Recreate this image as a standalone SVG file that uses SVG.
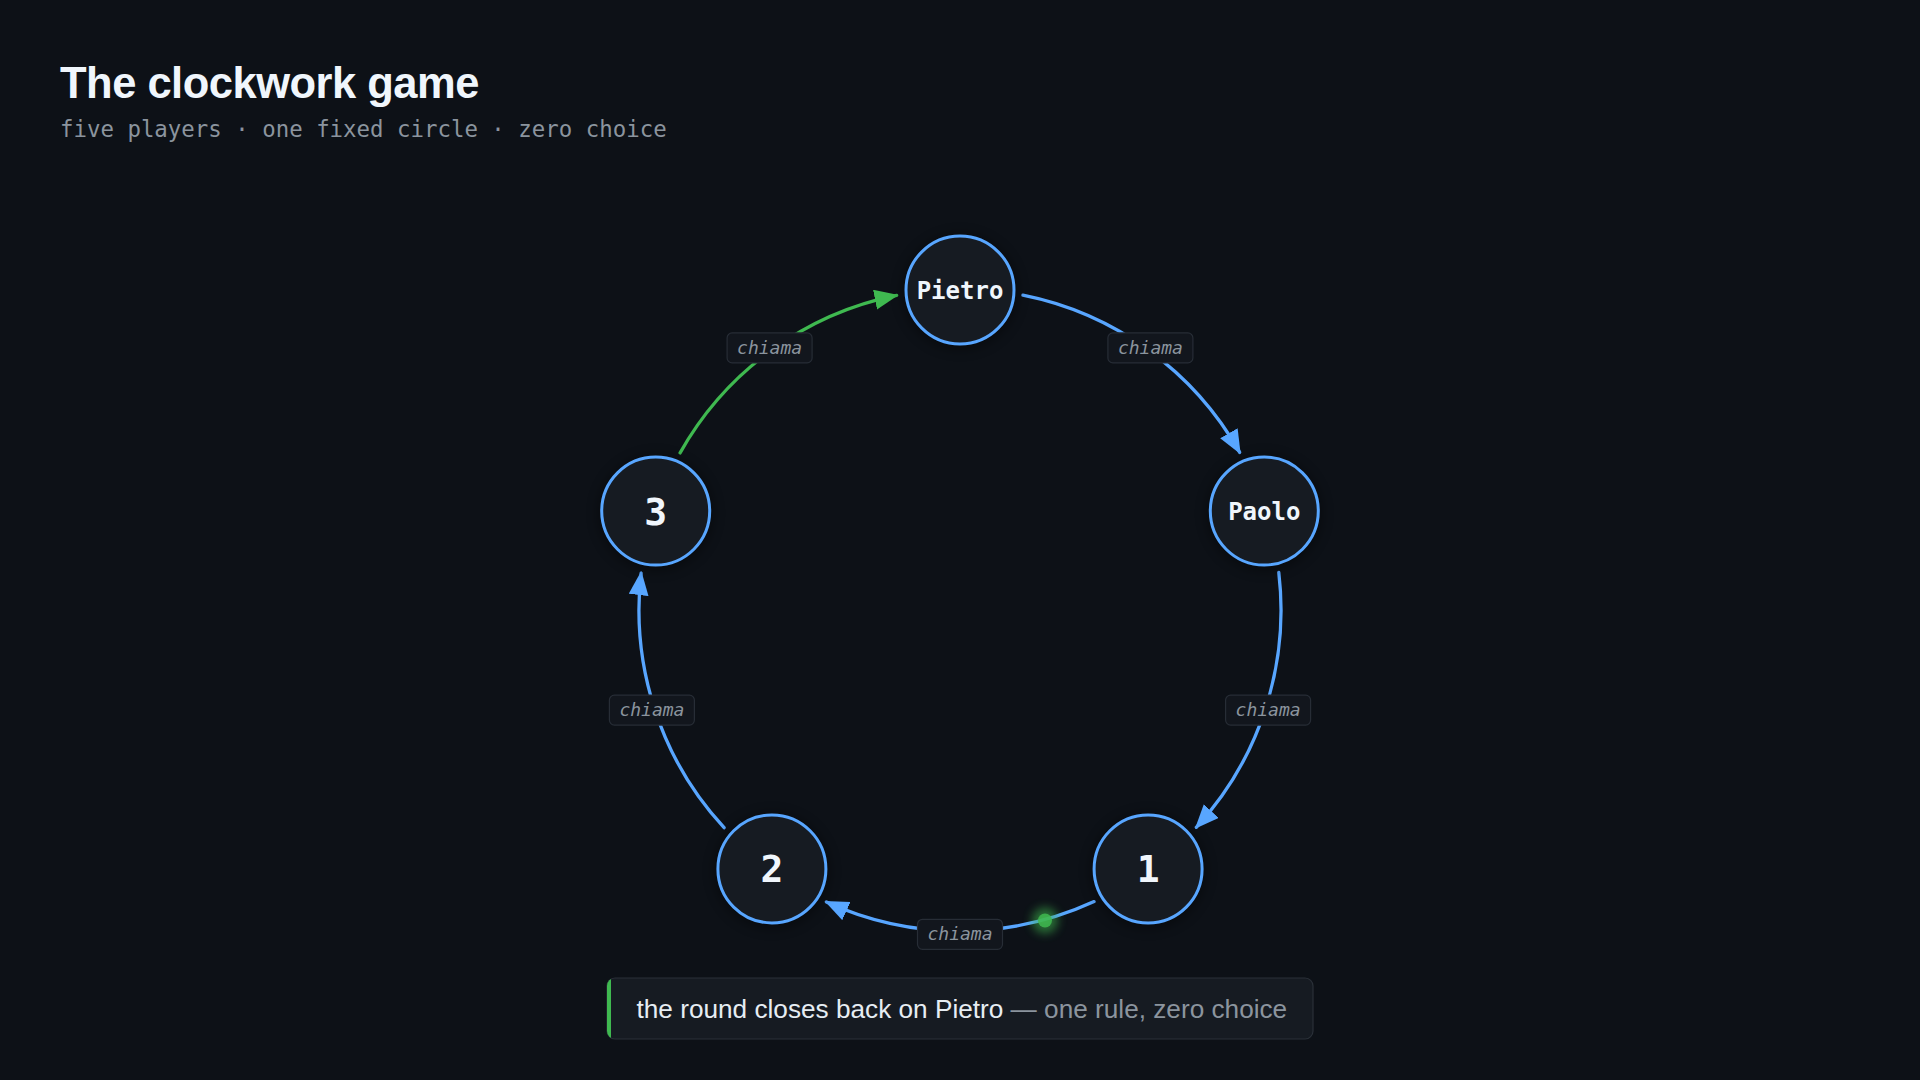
<svg xmlns="http://www.w3.org/2000/svg" width="1920" height="1080" viewBox="0 0 1920 1080">
  <defs>
    <style>
      .title { font-family: "Liberation Sans", Arial, sans-serif; font-weight: 700; font-size: 43.5px; fill: #f0f6fc; letter-spacing: -0.5px; }
      .subtitle { font-family: "DejaVu Sans Mono", "Liberation Mono", monospace; font-size: 22.4px; fill: #8b949e; }
      .node-circle { fill: #161b22; stroke: #58a6ff; stroke-width: 3; }
      .node-halo { fill: #000000; opacity: 0.35; }
      .node-name { font-family: "DejaVu Sans Mono", "Liberation Mono", monospace; font-weight: 700; font-size: 24px; fill: #f0f6fc; text-anchor: middle; }
      .node-num { font-family: "DejaVu Sans Mono", "Liberation Mono", monospace; font-weight: 700; font-size: 38px; fill: #f0f6fc; text-anchor: middle; }
      .edge { fill: none; stroke-width: 3.3; stroke-linecap: round; }
      .edge-blue { stroke: #58a6ff; marker-end: url(#arrow-blue); }
      .edge-green { stroke: #3fb950; marker-end: url(#arrow-green); }
      .label-box { fill: #12161d; stroke: #272d36; stroke-width: 1.2; }
      .label-text { font-family: "DejaVu Sans Mono", "Liberation Mono", monospace; font-style: italic; font-size: 18px; fill: #8b949e; text-anchor: middle; }
      .callout-box { fill: #161b22; stroke: #2a3038; stroke-width: 1.2; }
      .callout-text { font-family: "Liberation Sans", Arial, sans-serif; font-size: 26.2px; }
    </style>
    <marker id="arrow-blue" markerUnits="userSpaceOnUse" markerWidth="26" markerHeight="22" refX="22" refY="10" orient="auto">
      <path d="M0,0 L24,10 L0,20 Z" fill="#58a6ff"/>
    </marker>
    <marker id="arrow-green" markerUnits="userSpaceOnUse" markerWidth="26" markerHeight="22" refX="22" refY="10" orient="auto">
      <path d="M0,0 L24,10 L0,20 Z" fill="#3fb950"/>
    </marker>
    <filter id="halo" x="-50%" y="-50%" width="200%" height="200%">
      <feGaussianBlur stdDeviation="6"/>
    </filter>
    <filter id="glow" x="-200%" y="-200%" width="500%" height="500%">
      <feGaussianBlur stdDeviation="5"/>
    </filter>
    <clipPath id="callout-clip">
      <rect x="607" y="978" width="706" height="61" rx="8"/>
    </clipPath>
  </defs>

  <rect x="0" y="0" width="1920" height="1080" fill="#0d1117"/>

  <g id="header">
    <text class="title" x="60" y="98">The clockwork game</text>
    <text class="subtitle" x="60" y="137">five players · one fixed circle · zero choice</text>
  </g>

  <g id="connectors">
    <path id="edge-pietro-paolo" class="edge edge-blue" d="M1022.9,295.2 A321,321 0 0 1 1239.7,452.4"/>
    <path id="edge-paolo-1" class="edge edge-blue" d="M1278.8,572.5 A321,321 0 0 1 1196.3,827.3"/>
    <path id="edge-1-2" class="edge edge-blue" d="M1094.1,901.6 A321,321 0 0 1 826.4,901.9"/>
    <path id="edge-2-3" class="edge edge-blue" d="M724.1,827.7 A321,321 0 0 1 641.1,573.1"/>
    <path id="edge-3-pietro" class="edge edge-green" d="M680.1,452.9 A321,321 0 0 1 896.6,295.3"/>

    <g id="labels">
      <rect class="label-box" x="1107.9" y="332.9" width="85" height="30" rx="5"/>
      <text class="label-text" x="1150.4" y="354">chiama</text>
      <rect class="label-box" x="1225.6" y="695.1" width="85" height="30" rx="5"/>
      <text class="label-text" x="1268.1" y="716.2">chiama</text>
      <rect class="label-box" x="917.5" y="919.3" width="85" height="30" rx="5"/>
      <text class="label-text" x="960" y="940.4">chiama</text>
      <rect class="label-box" x="609.4" y="695.1" width="85" height="30" rx="5"/>
      <text class="label-text" x="651.9" y="716.2">chiama</text>
      <rect class="label-box" x="727.1" y="332.9" width="85" height="30" rx="5"/>
      <text class="label-text" x="769.6" y="354">chiama</text>
    </g>

    <g id="token">
      <circle cx="1045" cy="920.5" r="13" fill="#3fb950" opacity="0.55" filter="url(#glow)"/>
      <circle cx="1045" cy="920.5" r="7" fill="#3fb950" opacity="0.85"/>
    </g>
  </g>

  <g id="node-pietro">
    <circle class="node-halo" cx="960" cy="292" r="58" filter="url(#halo)"/>
    <circle class="node-circle" cx="960" cy="290" r="54"/>
    <text class="node-name" x="960" y="298.5">Pietro</text>
  </g>
  <g id="node-paolo">
    <circle class="node-halo" cx="1264.3" cy="513.1" r="58" filter="url(#halo)"/>
    <circle class="node-circle" cx="1264.3" cy="511.1" r="54"/>
    <text class="node-name" x="1264.3" y="519.6">Paolo</text>
  </g>
  <g id="node-1">
    <circle class="node-halo" cx="1148.1" cy="870.9" r="58" filter="url(#halo)"/>
    <circle class="node-circle" cx="1148.1" cy="868.9" r="54"/>
    <text class="node-num" x="1148.1" y="882.4">1</text>
  </g>
  <g id="node-2">
    <circle class="node-halo" cx="771.9" cy="870.9" r="58" filter="url(#halo)"/>
    <circle class="node-circle" cx="771.9" cy="868.9" r="54"/>
    <text class="node-num" x="771.9" y="882.4">2</text>
  </g>
  <g id="node-3">
    <circle class="node-halo" cx="655.7" cy="513.1" r="58" filter="url(#halo)"/>
    <circle class="node-circle" cx="655.7" cy="511.1" r="54"/>
    <text class="node-num" x="655.7" y="524.6">3</text>
  </g>

  <g id="callout">
    <rect class="callout-box" x="607" y="978" width="706" height="61" rx="8"/>
    <rect x="607" y="978" width="4" height="61" fill="#3fb950" clip-path="url(#callout-clip)"/>
    <text class="callout-text" x="636.5" y="1018"><tspan fill="#e6edf3">the round closes back on Pietro</tspan><tspan fill="#8b949e"> — one rule, zero choice</tspan></text>
  </g>
</svg>
